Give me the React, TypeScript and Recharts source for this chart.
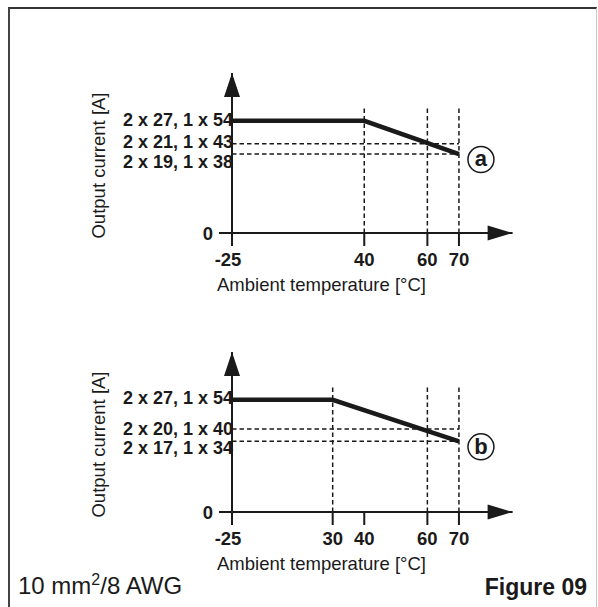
import React from 'react';
import { LineChart, Line, XAxis, YAxis, ReferenceLine, ReferenceDot, Label } from 'recharts';

// derating curves, temperature in °C, current in A (1-output value)
const tempsA = [-25, 40, 70];
const currentA = [54, 54, 38];
const tempsB = [-25, 30, 70];
const currentB = [54, 54, 34];

const xTicksA = [-25, 40, 60, 70];
const xTicksB = [-25, 30, 40, 60, 70];

const yTicksA = [0, 38, 43, 54];
const yLabelsA = ['0', '2 x 19, 1 x 38', '2 x 21, 1 x 43', '2 x 27, 1 x 54'];
const yTicksB = [0, 34, 40, 54];
const yLabelsB = ['0', '2 x 17, 1 x 34', '2 x 20, 1 x 40', '2 x 27, 1 x 54'];

const guideTempsA = [40, 60, 70];
const guideCurrentsA = [43, 38];
const guideTempsB = [30, 60, 70];
const guideCurrentsB = [40, 34];

const GUIDE_TOP = 60;
const T_MIN = -25;
const T_MAX = 87;
const I_MAX = 77;

const INK = '#1a1a1a';
const FONT = '"Liberation Sans", Arial, Helvetica, sans-serif';

// label nudges (px) so the close tick labels don't collide, same order as the ticks
const NUDGE_A = [0, 7.5, -2.5, -1];
const NUDGE_B = [0, 6.5, 0, -2];

// the temperature axis is broken: below 30 °C it is squeezed
const BREAK_AT = 30;
const SQUEEZE = 0.58;

function brokenScale(): any {
  let dom: number[] = [0, 1];
  let rng: number[] = [0, 1];
  const warp = (v: number) => (v < BREAK_AT ? BREAK_AT - (BREAK_AT - v) * SQUEEZE : v);
  const s: any = (v: number) => {
    const a = warp(dom[0]);
    const b = warp(dom[1]);
    return rng[0] + ((warp(Number(v)) - a) / (b - a)) * (rng[1] - rng[0]);
  };
  s.domain = (d?: any) => {
    if (d === undefined) return dom;
    dom = Array.from(d as number[]).map(Number);
    return s;
  };
  s.range = (r?: any) => {
    if (r === undefined) return rng;
    rng = Array.from(r as number[]).map(Number);
    return s;
  };
  s.copy = () => brokenScale().domain(dom).range(rng);
  s.ticks = () => dom;
  return s;
}

const XTick = (props: any) => {
  const { x, y, payload } = props;
  const v = payload.value;
  return (
    <text x={x} y={y + 18} dx={v < 0 ? -4 : 0} textAnchor="middle" fontSize={18.5}
      fontWeight="bold" fill={INK} fontFamily={FONT}>
      {v}
    </text>
  );
};

const makeYTick = (values: number[], labels: string[], nudge: number[]) => (props: any) => {
  const { x, y, payload } = props;
  const i = values.indexOf(payload.value);
  if (payload.value === 0) {
    return (
      <g>
        <line x1={x + 6} x2={x + 19} y1={y} y2={y} stroke={INK} strokeWidth={2} />
        <text x={x} y={y} dy={6.5} textAnchor="end" fontSize={18.5} fontWeight="bold"
          fill={INK} fontFamily={FONT}>
          {labels[i]}
        </text>
      </g>
    );
  }
  return (
    <text x={x + 20} y={y + nudge[i]} dy={6.4} textAnchor="end" fontSize={18} fontWeight="bold"
      fill={INK} fontFamily={FONT}>
      {labels[i]}
    </text>
  );
};

const ArrowUp = (p: any) => (
  <polygon points={`${p.cx},${p.cy} ${p.cx - 8},${p.cy + 24} ${p.cx + 8},${p.cy + 24}`} fill={INK} />
);

const ArrowRight = (p: any) => (
  <polygon points={`${p.cx},${p.cy} ${p.cx - 25},${p.cy - 7.5} ${p.cx - 25},${p.cy + 7.5}`} fill={INK} />
);

const makeMarker = (letter: string) => (p: any) => (
  <g>
    <circle cx={p.cx + 22} cy={p.cy + 5.5} r={13} fill="#fff" stroke={INK} strokeWidth={1.5} />
    <text x={p.cx + 22} y={p.cy + 5.5} dy={letter === 'a' ? 6 : 7.5} textAnchor="middle"
      fontSize={22} fontWeight="bold" fill={INK} fontFamily={FONT}>
      {letter}
    </text>
  </g>
);

const xTitle = (p: any) => (
  <text x={p.viewBox.x + 89.5} y={p.viewBox.y + 58} textAnchor="middle" fontSize={18.5}
    fill={INK} fontFamily={FONT}>
    Ambient temperature [°C]
  </text>
);

const yTitle = (p: any) => {
  const cx = p.viewBox.x + 3;
  const cy = p.viewBox.y + 92.5;
  return (
    <text x={cx} y={cy} transform={`rotate(-90 ${cx} ${cy})`} textAnchor="middle" fontSize={18.5}
      fill={INK} fontFamily={FONT}>
      Output current [A]
    </text>
  );
};

interface PanelProps {
  temps: number[];
  currents: number[];
  xTicks: number[];
  yTicks: number[];
  yLabels: string[];
  nudge: number[];
  guideTemps: number[];
  guideCurrents: number[];
  marker: string;
  top: number;
}

function Panel({ temps, currents, xTicks, yTicks, yLabels, nudge, guideTemps, guideCurrents, marker, top }: PanelProps) {
  const data = temps.map((t, i) => ({ temp: t, current: currents[i] }));
  const end = data[data.length - 1];
  return (
    <div style={{ position: 'absolute', left: 0, top }}>
      <LineChart width={598} height={300} data={data}
        margin={{ top: 73, right: 85.4, bottom: 37, left: 102 }}>
        <XAxis dataKey="temp" type="number" scale={brokenScale()} domain={[T_MIN, T_MAX]}
          ticks={xTicks} interval={0} tickSize={13} tickMargin={2} height={30}
          axisLine={{ stroke: INK, strokeWidth: 2 }} tickLine={{ stroke: INK, strokeWidth: 2 }}
          tick={XTick}>
          <Label content={xTitle} />
        </XAxis>
        <YAxis type="number" domain={[0, I_MAX]} ticks={yTicks} interval={0} width={130}
          tickSize={13} tickMargin={6} tickLine={false}
          axisLine={{ stroke: INK, strokeWidth: 2 }} tick={makeYTick(yTicks, yLabels, nudge)}>
          <Label content={yTitle} />
        </YAxis>
        {guideTemps.map((t) => (
          <ReferenceLine key={'v' + t} segment={[{ x: t, y: 0 }, { x: t, y: GUIDE_TOP }]}
            stroke={INK} strokeWidth={1.5} strokeDasharray="4.5 3" />
        ))}
        {guideCurrents.map((c) => (
          <ReferenceLine key={'h' + c} segment={[{ x: T_MIN, y: c }, { x: end.temp, y: c }]}
            stroke={INK} strokeWidth={1.5} strokeDasharray="4.5 3" />
        ))}
        <Line type="linear" dataKey="current" stroke={INK} strokeWidth={4.5} dot={false}
          strokeLinejoin="miter" isAnimationActive={false} />
        <ReferenceDot x={T_MIN} y={I_MAX} r={1} shape={ArrowUp} ifOverflow="visible" />
        <ReferenceDot x={T_MAX} y={0} r={1} shape={ArrowRight} ifOverflow="visible" />
        <ReferenceDot x={end.temp} y={end.current} r={1} shape={makeMarker(marker)} ifOverflow="visible" />
      </LineChart>
    </div>
  );
}

export default function App() {
  return (
    <div style={{ position: 'absolute', left: 0, top: 0, width: 598, height: 607, overflow: 'hidden',
      background: '#fff', fontFamily: FONT, color: INK }}>
      <div style={{ position: 'absolute', left: 8, top: 7, width: 586, height: 640,
        borderTop: '2px solid #333', borderLeft: '2px solid #444', borderRight: '1px solid #c8c8c8' }} />
      <Panel temps={tempsA} currents={currentA} xTicks={xTicksA} yTicks={yTicksA} yLabels={yLabelsA}
        nudge={NUDGE_A} guideTemps={guideTempsA} guideCurrents={guideCurrentsA} marker="a" top={0} />
      <Panel temps={tempsB} currents={currentB} xTicks={xTicksB} yTicks={yTicksB} yLabels={yLabelsB}
        nudge={NUDGE_B} guideTemps={guideTempsB} guideCurrents={guideCurrentsB} marker="b" top={279} />
      <div style={{ position: 'absolute', left: 18, top: 574, fontSize: 24, lineHeight: '24px',
        whiteSpace: 'nowrap' }}>
        10 mm<span style={{ fontSize: 16, position: 'relative', top: -9 }}>2</span>/8 AWG
      </div>
      <div style={{ position: 'absolute', right: 11, top: 575.5, fontSize: 23, lineHeight: '23px',
        fontWeight: 'bold', whiteSpace: 'nowrap' }}>
        Figure 09
      </div>
    </div>
  );
}
